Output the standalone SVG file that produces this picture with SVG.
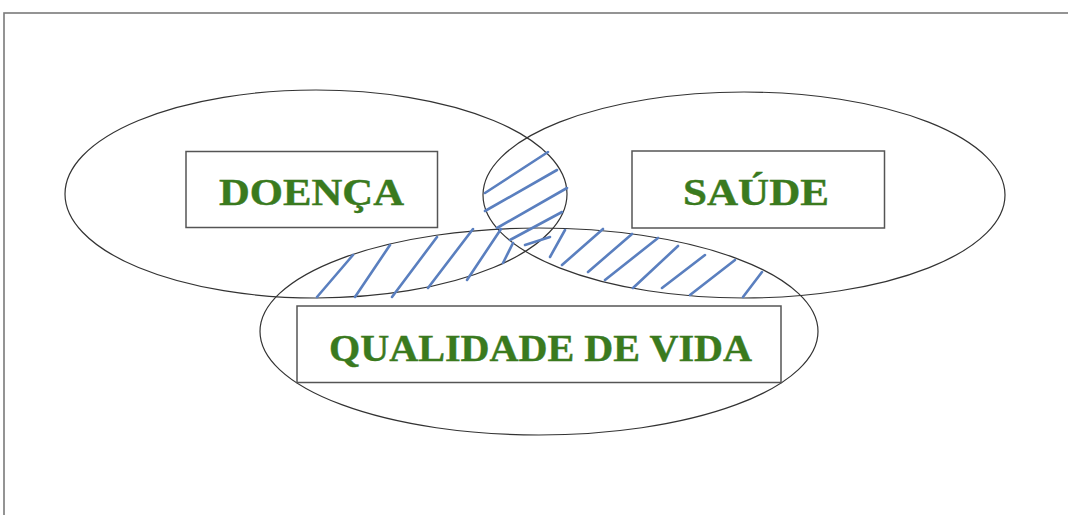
<svg xmlns="http://www.w3.org/2000/svg" width="1068" height="515" viewBox="0 0 1068 515">
<style>
.frame{fill:#fff;stroke:#7a7a7a;stroke-width:1.6}
.ell{fill:none;stroke:#333;stroke-width:1.2}
.box{fill:#fff;stroke:#555;stroke-width:1.5}
.lbl{font-family:"Liberation Serif","Times New Roman",serif;font-weight:bold;fill:#3a7a1e;stroke:#3a7a1e;stroke-width:0.4;text-anchor:middle}
.hatch line{stroke:#5a7fbf;stroke-width:2.6;stroke-linecap:round}
</style>
<rect width="1068" height="515" fill="#fff"/>
<rect class="frame" x="4" y="13" width="1080" height="520"/>
<g id="ellipses">
<ellipse id="e-doenca" class="ell" cx="316" cy="194" rx="251" ry="104"/>
<ellipse id="e-saude" class="ell" cx="744" cy="195" rx="261" ry="103"/>
<ellipse id="e-qv" class="ell" cx="539" cy="331.5" rx="279" ry="103.5"/>
</g>
<g id="connectors" class="hatch">
<line x1="485" y1="193" x2="548" y2="152"/>
<line x1="485" y1="211" x2="557" y2="170"/>
<line x1="497" y1="228" x2="567" y2="188"/>
<line x1="510" y1="240" x2="562" y2="212"/>
<line x1="525" y1="245" x2="550" y2="237"/>
<line x1="317" y1="297" x2="353" y2="255"/>
<line x1="355" y1="297" x2="390" y2="245"/>
<line x1="392" y1="297" x2="437" y2="237"/>
<line x1="428" y1="288" x2="473" y2="229"/>
<line x1="467" y1="280" x2="501" y2="229"/>
<line x1="503" y1="263" x2="513" y2="243"/>
<line x1="550" y1="257" x2="565" y2="230"/>
<line x1="562" y1="265" x2="603" y2="229"/>
<line x1="588" y1="272" x2="632" y2="234"/>
<line x1="605" y1="280" x2="658" y2="238"/>
<line x1="633" y1="288" x2="678" y2="246"/>
<line x1="662" y1="288" x2="705" y2="255"/>
<line x1="690" y1="295" x2="735" y2="260"/>
<line x1="743" y1="297" x2="762" y2="272"/>
</g>
<g id="node-doenca">
<rect class="box" x="186" y="151.5" width="251.5" height="76"/>
<text class="lbl" x="311.5" y="205" font-size="37" textLength="185" lengthAdjust="spacingAndGlyphs">DOENÇA</text>
</g>
<g id="node-saude">
<rect class="box" x="632" y="151" width="252.5" height="77"/>
<text class="lbl" x="756" y="205" font-size="37" textLength="146" lengthAdjust="spacingAndGlyphs">SAÚDE</text>
</g>
<g id="node-qv">
<rect class="box" x="297" y="306" width="484" height="76.5"/>
<text class="lbl" x="540.5" y="361" font-size="38" textLength="423" lengthAdjust="spacingAndGlyphs">QUALIDADE DE VIDA</text>
</g>
</svg>
